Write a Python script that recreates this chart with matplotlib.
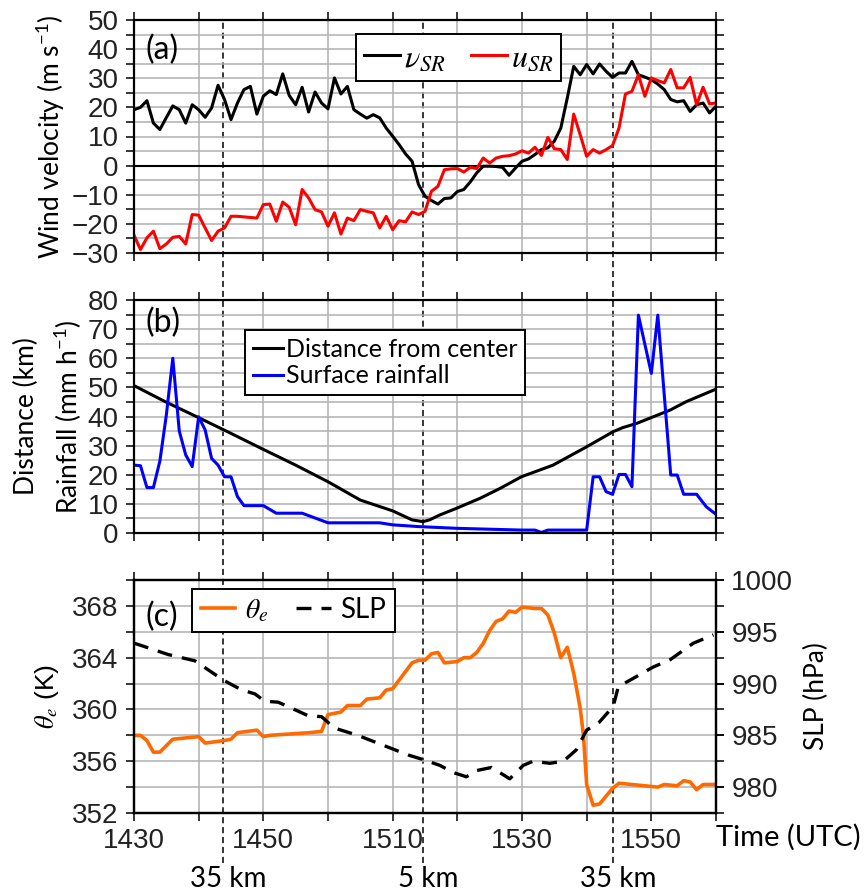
import numpy as np
import matplotlib
matplotlib.use('Agg')
import matplotlib.pyplot as plt
from matplotlib import transforms
from matplotlib.ticker import MultipleLocator, FixedLocator

plt.rcParams['mathtext.fontset'] = 'stix'

# --- DATA (minutes after 1430 UTC) ---
minutes = np.arange(0, 91)

v_sr = [19.2, 20.0, 22.3, 14.6, 12.4, 16.5, 20.5, 19.2, 14.6, 20.9,
        19.2, 16.6, 19.8, 27.6, 22.7, 15.8, 21.5, 26.1, 27.2, 17.7,
        23.8, 25.7, 24.4, 31.5, 24.1, 20.9, 26.9, 18.4, 25.3, 21.5,
        19.5, 30.1, 24.6, 27.2, 19.2, 17.7, 16.3, 17.5, 16.4, 12.9,
        10.1, 7.2, 4.0, 1.5, -6.5, -10.5, -12.0, -13.2, -11.3, -11.1,
        -8.9, -8.2, -5.6, -2.5, -0.2, -0.2, -0.3, -0.6, -3.3, -0.8,
        1.5, 2.3, 3.8, 5.5, 6.1, 8.4, 12.9, 23.2, 34.1, 31.2,
        34.7, 31.5, 34.9, 32.4, 30.3, 31.8, 31.8, 35.8, 31.2, 30.4,
        29.5, 28.0, 26.1, 22.7, 21.9, 22.3, 18.6, 20.9, 21.5, 18.1,
        20.4]

u_sr = [-23.9, -28.8, -24.8, -22.5, -28.5, -26.9, -24.6, -24.3, -26.9, -16.8,
        -17.0, -21.4, -25.7, -22.5, -21.4, -17.4, -17.4, -17.6, -17.8, -18.0,
        -13.4, -13.2, -19.1, -12.5, -14.3, -20.3, -8.2, -11.1, -15.1, -15.9,
        -20.8, -16.2, -23.5, -18.0, -18.9, -15.1, -15.7, -16.2, -21.4, -17.4,
        -22.0, -18.9, -19.3, -15.9, -16.8, -15.7, -8.8, -7.1, -1.4, -1.1,
        -1.0, -2.2, -0.6, -1.0, 2.6, 0.9, 2.6, 3.2, 3.4, 4.0,
        5.1, 4.3, 6.3, 3.5, 9.7, 5.8, 5.5, 2.1, 17.7, 10.6,
        3.2, 5.5, 4.3, 5.5, 6.9, 12.9, 24.6, 25.5, 31.2, 23.8,
        30.1, 29.2, 28.4, 33.0, 26.7, 26.7, 30.3, 20.9, 26.9, 21.2,
        21.5]

dist_t = [0, 5, 10, 15, 20, 25, 30, 35, 40, 43, 44.7, 45.7, 47.3, 49.9, 53.5,
          56.6, 59.9, 64.8, 70, 74.1, 75.6, 77.7, 80.3, 82.9, 85.4, 90]
dist = [50.6, 44.9, 39.6, 34.2, 28.7, 23.3, 17.6, 11.3, 7.6, 4.5, 3.9, 4.5, 6.2,
        8.5, 11.9, 15.3, 19.3, 23.3, 29.6, 34.8, 36.2, 37.6, 39.9, 42.2, 45.1, 49.4]

rain_t = [0, 1, 2, 3, 4, 5, 6, 7, 8, 9, 10, 11, 12, 13, 14, 15, 16, 17, 20, 22,
          26, 30, 38, 40, 44, 50, 60, 62, 63, 64, 70, 71, 72, 73, 74, 75, 76,
          77, 78, 80, 81, 83, 84, 85, 87, 88.5, 90]
rain = [23.3, 23.1, 15.6, 15.6, 24.7, 40.5, 60.0, 35.0, 26.8, 22.8, 39.9, 35.4,
        25.6, 23.3, 19.3, 19.3, 12.5, 9.4, 9.4, 6.8, 6.8, 3.5, 3.5, 2.8, 2.2,
        1.6, 1.0, 1.0, 0.2, 1.0, 1.0, 19.3, 19.3, 14.2, 13.3, 20.1, 20.1, 15.9,
        74.8, 54.8, 74.8, 19.9, 19.9, 13.3, 13.3, 9.0, 6.4]

theta_t = [0, 1, 2, 3, 4, 6, 10, 11, 14, 15, 16, 19, 20, 21, 27, 29, 30, 32, 33,
           35, 36, 38, 39, 40, 43, 44, 45, 46, 47, 48, 50, 51, 52, 53, 54, 55,
           56, 57, 58, 59, 60, 62, 63, 64, 65, 66, 67, 68, 69, 69.5, 70, 71, 72,
           73, 74, 75, 77, 79, 81, 82, 84, 85, 86, 87, 88, 90]
theta_e = [358.0, 358.0, 357.6, 356.7, 356.7, 357.7, 357.9, 357.4, 357.6, 357.7,
           358.2, 358.4, 357.9, 358.0, 358.2, 358.3, 359.6, 359.8, 360.3, 360.3,
           360.8, 360.9, 361.5, 361.6, 363.6, 363.8, 363.8, 364.3, 364.4, 363.6,
           363.7, 364.0, 364.0, 364.4, 365.1, 366.1, 366.8, 367.0, 367.6, 367.5,
           367.9, 367.8, 367.8, 367.3, 365.9, 364.0, 364.8, 362.8, 360.1, 358.0,
           354.2, 352.6, 352.7, 353.3, 353.9, 354.3, 354.2, 354.1, 354.0, 354.2,
           354.1, 354.5, 354.4, 353.8, 354.2, 354.2]

slp_t = [0, 1, 5.3, 9.4, 13.9, 16.6, 18.7, 20.2, 22.3, 24.8, 26.9, 29, 31, 34.6,
         38.3, 42.4, 44.5, 47.3, 49.4, 51.4, 53, 55.3, 58.1, 60.2, 61.7, 64.3,
         66.4, 68.4, 70, 72, 74.1, 74.9, 77.2, 80.3, 82.9, 86.5, 89.6]
slp = [993.9, 993.7, 992.8, 992.2, 990.3, 989.4, 989.0, 988.3, 988.2, 987.5,
       986.9, 986.8, 985.7, 985.0, 984.1, 983.1, 982.7, 982.1, 981.4, 981.0,
       981.6, 981.9, 980.8, 982.1, 982.5, 982.3, 982.5, 983.6, 985.5, 986.3,
       987.8, 989.7, 990.5, 991.6, 992.3, 993.9, 994.7]

time_ticks = [0, 10, 20, 30, 40, 50, 60, 70, 80, 90]
time_labels = ['1430', '', '1450', '', '1510', '', '1530', '', '1550', '']

mark_t = [13.8, 44.7, 74.0]
mark_labels = ['35 km', '5 km', '35 km']

# --- STYLE ---
TICK_FONT = 'Liberation Sans'
TEXT_FONT = 'Lato'
TICK_SIZE = 20
LABEL_SIZE = 19
GRID_COLOR = '#b0b0b0'

W, H = 866, 893
fig = plt.figure(figsize=(W / 100, H / 100), dpi=100)

def fx(px):
    return px / W

def fy(py):
    return 1 - py / H

left, right = 134, 716
axes_px = [(20, 253), (300, 533), (580, 813)]

# full-height overlay for the dashed distance markers
overlay = fig.add_axes([fx(left), fy(863), fx(right) - fx(left), fy(20) - fy(863)])
overlay.set_xlim(0, 90)
overlay.set_ylim(0, 1)
overlay.axis('off')
overlay.set_zorder(0)
for t in mark_t:
    overlay.axvline(t, color='black', lw=1.1, dashes=(4, 2.5))
blend = transforms.blended_transform_factory(overlay.transData, fig.transFigure)
for t, lab in zip(mark_t, mark_labels):
    overlay.text(t + 0.8, fy(879), lab, transform=blend, ha='center', va='center',
                 fontsize=LABEL_SIZE + 1, family=TEXT_FONT)

axs = []
for top, bot in axes_px:
    ax = fig.add_axes([fx(left), fy(bot), fx(right) - fx(left), fy(top) - fy(bot)])
    ax.set_zorder(1)
    ax.patch.set_alpha(0)
    axs.append(ax)

def style_axis(ax):
    ax.set_xlim(0, 90)
    ax.xaxis.set_major_locator(FixedLocator(time_ticks))
    ax.tick_params(which='both', direction='out', length=6, width=1.1,
                   top=True, right=True, labelsize=TICK_SIZE, labelcolor='#222222', pad=5)
    for lab in ax.get_xticklabels() + ax.get_yticklabels():
        lab.set_family(TICK_FONT)
    for s in ax.spines.values():
        s.set_linewidth(1.6)
    ax.grid(True, which='both', color=GRID_COLOR, lw=1.1)
    ax.set_axisbelow(True)

# (a) wind velocity
ax = axs[0]
ax.axhline(0, color='black', lw=1.5)
l1, = ax.plot(minutes, v_sr, color='black', lw=2.2, label=r'$\nu_{SR}$')
l2, = ax.plot(minutes, u_sr, color='#ff0000', lw=2.2, label=r'$u_{SR}$')
ax.set_ylim(-30, 50)
ax.yaxis.set_major_locator(MultipleLocator(10))
ax.yaxis.set_minor_locator(MultipleLocator(5))
style_axis(ax)
ax.set_xticklabels([])
ax.set_ylabel('Wind velocity (m s$\\mathregular{^{-1}}$)', fontsize=LABEL_SIZE,
              family=TEXT_FONT, labelpad=3)
ax.text(0.02, 0.87, '(a)', transform=ax.transAxes, fontsize=23, family=TEXT_FONT,
        va='center', ha='left')
leg = ax.legend(loc='upper left', bbox_to_anchor=(0.381, 0.938), ncol=2,
                fontsize=23, handlelength=1.15, handletextpad=0.1, columnspacing=0.8,
                borderpad=0.25, borderaxespad=0, fancybox=False, framealpha=1,
                edgecolor='black')
leg.get_frame().set_linewidth(1.4)

# (b) distance and rainfall
ax = axs[1]
ax.plot(dist_t, dist, color='black', lw=2.2, label='Distance from center')
ax.plot(rain_t, rain, color='#0000ff', lw=2.2, label='Surface rainfall')
ax.set_ylim(0, 80)
ax.yaxis.set_major_locator(MultipleLocator(10))
ax.yaxis.set_minor_locator(MultipleLocator(5))
style_axis(ax)
ax.set_xticklabels([])
ax.set_ylabel('Distance (km)\nRainfall (mm h$\\mathregular{^{-1}}$)', fontsize=LABEL_SIZE,
              family=TEXT_FONT, labelpad=3, linespacing=1.5)
ax.text(0.02, 0.90, '(b)', transform=ax.transAxes, fontsize=23, family=TEXT_FONT,
        va='center', ha='left')
leg = ax.legend(loc='upper left', bbox_to_anchor=(0.191, 0.871),
                prop={'family': TEXT_FONT, 'size': 18}, handlelength=1.2,
                handletextpad=0.15, borderpad=0.3, labelspacing=0.15,
                borderaxespad=0, fancybox=False, framealpha=1, edgecolor='black')
leg.get_frame().set_linewidth(1.4)

# (c) theta_e and SLP
ax = axs[2]
ax2 = ax.twinx()
ax2.set_zorder(2)
lt, = ax.plot(theta_t, theta_e, color='#ff6a00', lw=2.6, label=r'$\theta_e$')
ls, = ax2.plot(slp_t, slp, color='black', lw=2.4, dashes=(4.5, 3), label='SLP')
ax.set_ylim(352, 370)
ax.yaxis.set_major_locator(MultipleLocator(4))
ax.yaxis.set_minor_locator(FixedLocator([354, 358, 362, 366, 370]))
style_axis(ax)
ax.tick_params(right=False)
ax.set_xticklabels(time_labels)
for lab in ax.get_xticklabels():
    lab.set_family(TICK_FONT)
ax.set_ylabel(r'$\theta_e$ (K)', fontsize=LABEL_SIZE, family=TICK_FONT, labelpad=8)
ax.text(0.02, 0.84, '(c)', transform=ax.transAxes, fontsize=23, family=TEXT_FONT,
        va='center', ha='left')
ax.text(1.0, -0.103, 'Time (UTC)', transform=ax.transAxes, fontsize=LABEL_SIZE + 2,
        family=TEXT_FONT, ha='left', va='center')

ax2.set_xlim(0, 90)
ax2.set_ylim(977.5, 1000)
ax2.yaxis.set_major_locator(MultipleLocator(5))
ax2.yaxis.set_minor_locator(MultipleLocator(2.5))
ax2.tick_params(which='both', direction='out', length=6, width=1.1,
                labelsize=TICK_SIZE, labelcolor='#222222', pad=5)
for lab in ax2.get_yticklabels():
    lab.set_family(TICK_FONT)
ax2.set_ylabel('SLP (hPa)', fontsize=LABEL_SIZE, family=TEXT_FONT, labelpad=8)
for s in ax2.spines.values():
    s.set_linewidth(1.6)
leg = ax2.legend(handles=[lt, ls], loc='upper left', bbox_to_anchor=(0.1, 0.962), ncol=2,
                 prop={'family': TEXT_FONT, 'size': 20}, handlelength=1.25,
                 handletextpad=0.35, columnspacing=1.0, borderpad=0.3,
                 borderaxespad=0, fancybox=False, framealpha=1, edgecolor='black')
leg.get_frame().set_linewidth(1.4)

fig.savefig('out.png', dpi=100)
